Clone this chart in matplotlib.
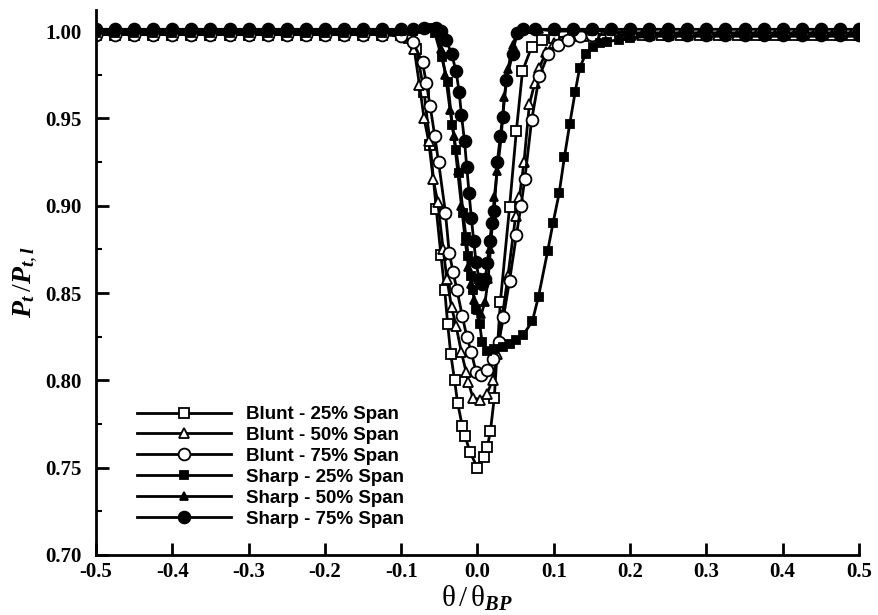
import matplotlib
matplotlib.use('Agg')
import matplotlib.pyplot as plt
from matplotlib.ticker import MultipleLocator

plt.rcParams['mathtext.fontset'] = 'custom'
plt.rcParams['mathtext.rm'] = 'Liberation Serif'
plt.rcParams['mathtext.it'] = 'Liberation Serif:italic:bold'
plt.rcParams['mathtext.bf'] = 'Liberation Serif:bold'

# theta / theta_BP positions and Pt/Pt,l readings for each traverse
x_b25 = [-0.5, -0.475, -0.45, -0.425, -0.4, -0.375, -0.35, -0.325, -0.3, -0.275, -0.25, -0.225, -0.2,
         -0.175, -0.15, -0.125, -0.1, -0.09, -0.08, -0.07, -0.062, -0.054, -0.048, -0.043, -0.039, -0.035,
         -0.03, -0.026, -0.02, -0.016, -0.01, 0.0, 0.008, 0.013, 0.017, 0.022, 0.03, 0.042, 0.051, 0.059,
         0.071, 0.085, 0.1, 0.125, 0.15, 0.175, 0.2, 0.225, 0.25, 0.275, 0.3, 0.325, 0.35, 0.375, 0.4,
         0.425, 0.45, 0.475, 0.5]
y_b25 = [0.998, 0.998, 0.998, 0.998, 0.998, 0.998, 0.998, 0.998, 0.998, 0.998, 0.998, 0.998, 0.998,
         0.998, 0.998, 0.998, 0.998, 0.996, 0.99, 0.965, 0.935, 0.898, 0.872, 0.852, 0.832, 0.815,
         0.8, 0.787, 0.774, 0.768, 0.759, 0.75, 0.756, 0.762, 0.771, 0.79, 0.845, 0.899, 0.943, 0.977,
         0.991, 0.995, 0.996, 0.997, 0.998, 0.998, 0.998, 0.998, 0.998, 0.998, 0.998, 0.998, 0.998, 0.998,
         0.998, 0.998, 0.998, 0.998, 0.998]

x_b50 = [-0.5, -0.475, -0.45, -0.425, -0.4, -0.375, -0.35, -0.325, -0.3, -0.275, -0.25, -0.225, -0.2,
         -0.175, -0.15, -0.125, -0.1, -0.09, -0.083, -0.076, -0.07, -0.064, -0.058, -0.052, -0.045, -0.04,
         -0.034, -0.028, -0.021, -0.015, -0.012, -0.006, 0.003, 0.012, 0.02, 0.026, 0.033, 0.04, 0.05,
         0.055, 0.061, 0.068, 0.075, 0.081, 0.09, 0.1, 0.12, 0.14, 0.165, 0.19, 0.215, 0.24, 0.265, 0.29,
         0.315, 0.34, 0.365, 0.39, 0.415, 0.44, 0.465, 0.49]
y_b50 = [0.998, 0.998, 0.998, 0.998, 0.998, 0.998, 0.998, 0.998, 0.998, 0.998, 0.998, 0.998, 0.998,
         0.998, 0.998, 0.998, 0.998, 0.997, 0.99, 0.969, 0.95, 0.937, 0.915, 0.902, 0.875, 0.858,
         0.842, 0.831, 0.816, 0.805, 0.799, 0.79, 0.789, 0.792, 0.8, 0.815, 0.838, 0.86, 0.894,
         0.905, 0.925, 0.958, 0.97, 0.979, 0.988, 0.993, 0.996, 0.997, 0.998, 0.998, 0.998, 0.998, 0.998,
         0.998, 0.998, 0.998, 0.998, 0.998, 0.998, 0.998, 0.998, 0.998]

x_b75 = [-0.5, -0.475, -0.45, -0.425, -0.4, -0.375, -0.35, -0.325, -0.3, -0.275, -0.25, -0.225, -0.2,
         -0.175, -0.15, -0.125, -0.1, -0.085, -0.072, -0.067, -0.062, -0.056, -0.051, -0.042, -0.037,
         -0.032, -0.027, -0.02, -0.014, -0.008, -0.002, 0.005, 0.013, 0.021, 0.028, 0.034, 0.042, 0.051,
         0.057, 0.062, 0.071, 0.081, 0.093, 0.106, 0.119, 0.134, 0.15, 0.175, 0.2, 0.225, 0.25, 0.275,
         0.3, 0.325, 0.35, 0.375, 0.4, 0.425, 0.45, 0.475, 0.5]
y_b75 = [0.998, 0.998, 0.998, 0.998, 0.998, 0.998, 0.998, 0.998, 0.998, 0.998, 0.998, 0.998, 0.998,
         0.998, 0.998, 0.998, 0.997, 0.994, 0.982, 0.97, 0.957, 0.94, 0.925, 0.896, 0.873,
         0.862, 0.852, 0.837, 0.825, 0.816, 0.805, 0.803, 0.806, 0.812, 0.822, 0.836, 0.857, 0.883,
         0.9, 0.915, 0.949, 0.974, 0.987, 0.992, 0.995, 0.997, 0.998, 0.998, 0.998, 0.998, 0.998, 0.998,
         0.998, 0.998, 0.998, 0.998, 0.998, 0.998, 0.998, 0.998, 0.998]

x_s25 = [-0.5, -0.475, -0.45, -0.425, -0.4, -0.375, -0.35, -0.325, -0.3, -0.275, -0.25, -0.225, -0.2,
         -0.175, -0.15, -0.125, -0.1, -0.085, -0.07, -0.063, -0.056, -0.047, -0.039, -0.033, -0.028,
         -0.024, -0.019, -0.015, -0.012, -0.009, -0.006, -0.002, 0.003, 0.006, 0.012, 0.022, 0.033,
         0.042, 0.051, 0.06, 0.072, 0.08, 0.092, 0.099, 0.107, 0.114, 0.121, 0.128, 0.134, 0.142, 0.151,
         0.16, 0.17, 0.185, 0.2, 0.225, 0.25, 0.275, 0.3, 0.325, 0.35, 0.375, 0.4, 0.425, 0.45, 0.475, 0.5]
y_s25 = [0.999, 0.999, 0.999, 0.999, 0.999, 0.999, 0.999, 0.999, 0.999, 0.999, 0.999, 0.999, 0.999,
         0.999, 0.999, 0.999, 1.0, 1.0, 1.001, 1.002, 0.999, 0.985, 0.971, 0.946, 0.932,
         0.919, 0.896, 0.882, 0.871, 0.86, 0.852, 0.841, 0.832, 0.822, 0.817, 0.818, 0.819,
         0.821, 0.823, 0.826, 0.834, 0.848, 0.874, 0.89, 0.907, 0.928, 0.947, 0.965, 0.979, 0.987, 0.991,
         0.993, 0.994, 0.995, 0.996, 0.997, 0.997, 0.997, 0.997, 0.997, 0.997, 0.997, 0.997, 0.997, 0.997,
         0.997, 0.997]

x_s50 = [-0.5, -0.475, -0.45, -0.425, -0.4, -0.375, -0.35, -0.325, -0.3, -0.275, -0.25, -0.225, -0.2,
         -0.175, -0.15, -0.125, -0.1, -0.085, -0.07, -0.06, -0.054, -0.048, -0.042, -0.036, -0.031,
         -0.026, -0.021, -0.016, -0.012, -0.008, -0.004, 0.0, 0.005, 0.01, 0.014, 0.017, 0.022, 0.026,
         0.031, 0.035, 0.04, 0.046, 0.052, 0.065, 0.08, 0.1, 0.125, 0.15, 0.175, 0.2, 0.225, 0.25, 0.275,
         0.3, 0.325, 0.35, 0.375, 0.4, 0.425, 0.45, 0.475, 0.5]
y_s50 = [1.0, 1.0, 1.0, 1.0, 1.0, 1.0, 1.0, 1.0, 1.0, 1.0, 1.0, 1.0, 1.0,
         1.0, 1.0, 1.0, 1.0, 1.0, 1.001, 1.002, 1.001, 0.99, 0.975, 0.955, 0.94,
         0.92, 0.9, 0.88, 0.865, 0.855, 0.846, 0.84, 0.838, 0.845, 0.858, 0.875, 0.905, 0.92,
         0.939, 0.962, 0.978, 0.992, 0.999, 1.001, 1.001, 1.0, 1.0, 1.0, 1.0, 0.999, 0.999, 0.999, 0.999,
         0.999, 0.999, 0.999, 0.999, 0.999, 0.999, 0.999, 0.999, 0.999]

x_s75 = [-0.5, -0.475, -0.45, -0.425, -0.4, -0.375, -0.35, -0.325, -0.3, -0.275, -0.25, -0.225, -0.2,
         -0.175, -0.15, -0.125, -0.1, -0.085, -0.07, -0.055, -0.048, -0.041, -0.034, -0.028, -0.024,
         -0.021, -0.017, -0.014, -0.011, -0.008, -0.005, -0.002, 0.002, 0.006, 0.01, 0.013, 0.016, 0.019,
         0.022, 0.026, 0.03, 0.033, 0.038, 0.046, 0.052, 0.06, 0.075, 0.1, 0.125, 0.15, 0.175, 0.2, 0.225,
         0.25, 0.275, 0.3, 0.325, 0.35, 0.375, 0.4, 0.425, 0.45, 0.475, 0.5]
y_s75 = [1.001, 1.001, 1.001, 1.001, 1.001, 1.001, 1.001, 1.001, 1.001, 1.001, 1.001, 1.001, 1.001,
         1.001, 1.001, 1.001, 1.001, 1.001, 1.002, 1.002, 1.0, 0.995, 0.987, 0.977, 0.965,
         0.952, 0.937, 0.922, 0.907, 0.893, 0.88, 0.868, 0.858, 0.855, 0.858, 0.867, 0.88, 0.89,
         0.897, 0.925, 0.94, 0.951, 0.972, 0.987, 0.999, 1.001, 1.001, 1.001, 1.001, 1.001, 1.001, 1.001,
         1.001, 1.001, 1.001, 1.001, 1.001, 1.001, 1.001, 1.001, 1.001, 1.001, 1.001, 1.001]

labels = ['Blunt - 25% Span', 'Blunt - 50% Span', 'Blunt - 75% Span',
          'Sharp - 25% Span', 'Sharp - 50% Span', 'Sharp - 75% Span']

series = [(x_b25, y_b25, 's', 'white', 6.5),
          (x_b50, y_b50, '^', 'white', 7),
          (x_b75, y_b75, 'o', 'white', 8.5),
          (x_s25, y_s25, 's', 'black', 5.5),
          (x_s50, y_s50, '^', 'black', 6),
          (x_s75, y_s75, 'o', 'black', 8.5)]

fig = plt.figure(figsize=(8.79, 6.15), dpi=100)
ax = fig.add_axes([0.1092, 0.0976, 0.868, 0.886])

for (xs, ys, mk, fc, ms), lab in zip(series, labels):
    ax.plot(xs, ys, color='black', lw=2, marker=mk, markerfacecolor=fc,
            markeredgecolor='black', markeredgewidth=1.3, markersize=ms, label=lab)

ax.set_xlim(-0.5, 0.5)
ax.set_ylim(0.70, 1.012)
ax.yaxis.set_minor_locator(MultipleLocator(0.025))
ax.set_xticks([-0.5, -0.4, -0.3, -0.2, -0.1, 0.0, 0.1, 0.2, 0.3, 0.4, 0.5])
ax.set_xticklabels(['%.1f' % v for v in ax.get_xticks()])
ax.set_yticks([0.70, 0.75, 0.80, 0.85, 0.90, 0.95, 1.00])
ax.set_yticklabels(['%.2f' % v for v in ax.get_yticks()])

for s in ['top', 'right']:
    ax.spines[s].set_visible(False)
for s in ['left', 'bottom']:
    ax.spines[s].set_linewidth(2)

ax.tick_params(which='major', direction='in', length=9, width=2)
ax.tick_params(axis='x', which='major', pad=5)
ax.tick_params(axis='y', which='major', pad=10)
ax.tick_params(which='minor', direction='in', length=4, width=1.5)
for t in ax.get_xticklabels() + ax.get_yticklabels():
    t.set_fontfamily('Liberation Serif')
    t.set_fontweight('bold')
    t.set_fontsize(15)

ax.set_xlabel(r'$\mathrm{\theta}\,/\,\mathrm{\theta}_{BP}$', fontsize=21, labelpad=1)
ax.set_ylabel(r'$P_t\,/P_{t,l}$', fontsize=20, labelpad=4)

leg = ax.legend(loc='upper left', bbox_to_anchor=(0.145, 0.355), bbox_transform=fig.transFigure,
                frameon=False, numpoints=1, handlelength=5.0, handletextpad=0.8,
                labelspacing=0.2, borderpad=0,
                prop={'family': 'Liberation Sans', 'weight': 'bold', 'size': 13.5})

fig.savefig('out.png', dpi=100)
